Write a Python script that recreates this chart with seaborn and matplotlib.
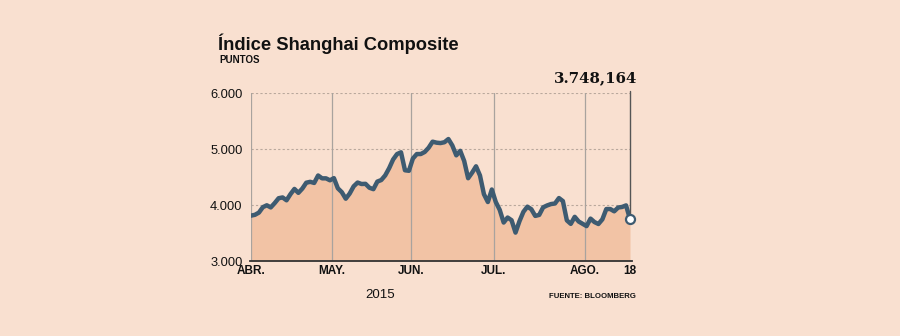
import matplotlib
matplotlib.use("Agg")
import matplotlib.pyplot as plt
import seaborn as sns
import pandas as pd
import numpy as np
from matplotlib import font_manager

# Trading-day closes, Shanghai Composite, 1 Apr - 18 Aug 2015
abr = [3810, 3825, 3864, 3961, 3995, 3957, 4034, 4121, 4135, 4084, 4194, 4287,
       4217, 4293, 4398, 4414, 4394, 4527, 4476, 4476, 4441]
may = [4480, 4298, 4229, 4112, 4205, 4333, 4401, 4375, 4378, 4308, 4283, 4418,
       4446, 4529, 4658, 4813, 4910, 4941, 4620, 4611]
jun = [4829, 4910, 4910, 4947, 5023, 5131, 5113, 5106, 5121, 5178, 5062, 4887,
       4967, 4786, 4478, 4577, 4691, 4527, 4193, 4053, 4277]
jul = [4054, 3913, 3687, 3776, 3728, 3507, 3710, 3878, 3970, 3925, 3805, 3823,
       3958, 3992, 4017, 4027, 4124, 4070, 3726, 3663, 3789, 3705, 3664]
ago = [3623, 3757, 3695, 3661, 3744, 3928, 3928, 3887, 3955, 3965, 3993, 3748]

month_labels = ["ABR.", "MAY.", "JUN.", "JUL.", "AGO.", "18"]
yticks = [3000, 4000, 5000, 6000]
ytick_labels = ["3.000", "4.000", "5.000", "6.000"]
last_label = "3.748,164"

values = abr + may + jun + jul + ago
df = pd.DataFrame({"idx": np.arange(len(values)), "close": values})

lens = [len(abr), len(may), len(jun), len(jul)]
starts = [0]
c = 0
for L in lens:
    c += L
    starts.append(c - 0.5)
tick_pos = starts + [len(values) - 1]

BG = "#F9E0D0"
FILL = "#F2C3A5"
LINE = "#3E5B71"

sns.set_theme(style="white")
plt.rcParams["font.family"] = ["Liberation Sans", "DejaVu Sans"]

names = {f.name for f in font_manager.fontManager.ttflist}
NARROW = "Liberation Sans Narrow" if "Liberation Sans Narrow" in names else (
    "DejaVu Sans Condensed" if "DejaVu Sans Condensed" in names else "Liberation Sans")

fig = plt.figure(figsize=(9, 3.36), dpi=100, facecolor=BG)
ax = fig.add_axes([251/900, 1-261/336, (630-251)/900, (261-93)/336])
ax.set_facecolor(BG)

ax.fill_between(df["idx"], 3000, df["close"], color=FILL, lw=0, zorder=1)
for y in [4000, 5000, 6000]:
    ax.axhline(y, color="#B9A89C", lw=0.8, ls=(0, (2, 2)), zorder=0.5)
for p in tick_pos[:-1]:
    ax.axvline(p, color="#A9A39E", lw=0.9, zorder=1.5)
sns.lineplot(data=df, x="idx", y="close", ax=ax, color=LINE, lw=3.2, zorder=3,
             solid_joinstyle="round")
ax.plot([df["idx"].iloc[-1]], [df["close"].iloc[-1]], "o", ms=6.5, mfc="white",
        mec=LINE, mew=1.6, zorder=4, clip_on=False)
ax.plot([tick_pos[-1], tick_pos[-1]], [df["close"].iloc[-1], 6040], color="#555555",
        lw=1, zorder=2, clip_on=False)

ax.set_xlim(0, len(values) - 1)
ax.set_ylim(3000, 6000)
ax.set_xticks(tick_pos)
ax.set_xticklabels(month_labels)
ax.set_yticks(yticks)
ax.set_yticklabels(ytick_labels)
ax.set_xlabel("")
ax.set_ylabel("")
for s in ["top", "right", "left"]:
    ax.spines[s].set_visible(False)
ax.spines["bottom"].set_color("#333333")
ax.spines["bottom"].set_linewidth(1.3)
ax.spines["bottom"].set_bounds(-0.3, len(values) - 0.5)
ax.tick_params(axis="x", length=0, pad=3, labelsize=8.5, colors="#111111")
ax.tick_params(axis="y", length=0, pad=6, labelsize=9.3, colors="#111111")
for t in ax.get_xticklabels():
    t.set_fontweight("bold")
    t.set_family([NARROW, "DejaVu Sans"])

fig.text(218/900, 1-44/336, "Índice Shanghai Composite", fontsize=13.2,
         fontweight="bold", family=[NARROW, "DejaVu Sans"], va="center",
         ha="left", color="#111111")
fig.text(219/900, 1-60/336, "PUNTOS", fontsize=7, fontweight="bold",
         family=[NARROW, "DejaVu Sans"], va="center", ha="left", color="#111111")
fig.text(637/900, 1-78/336, last_label, fontsize=10.8, fontweight="bold",
         family="DejaVu Serif", va="center", ha="right", color="#111111")
fig.text(380/900, 1-295/336, "2015", fontsize=9.5, va="center", ha="center",
         color="#111111")
fig.text(636/900, 1-297/336, "FUENTE: BLOOMBERG", fontsize=5.6, fontweight="bold",
         family=[NARROW, "DejaVu Sans"], va="center", ha="right", color="#111111")

fig.savefig("out.png", dpi=100, facecolor=BG)
